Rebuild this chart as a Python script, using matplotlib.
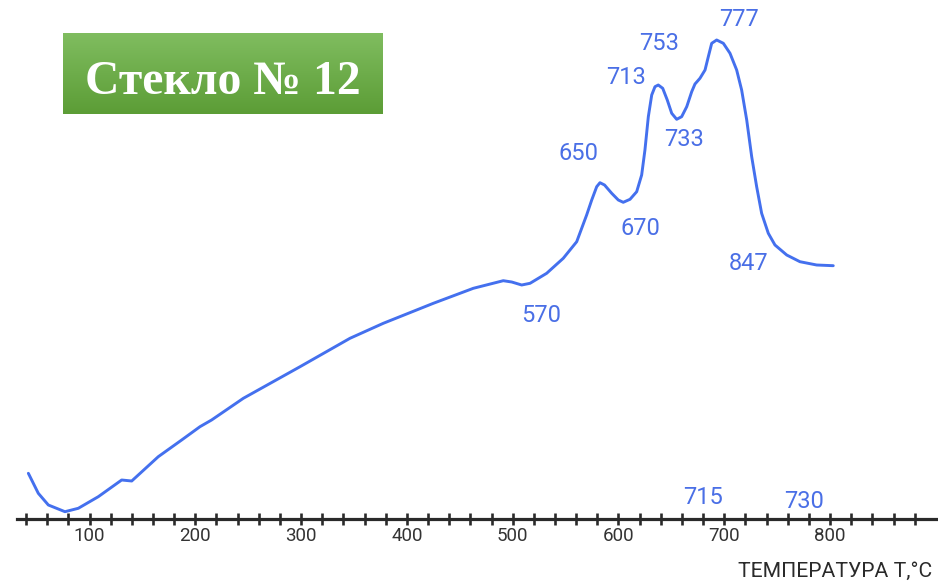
import numpy as np
import matplotlib.pyplot as plt
from matplotlib.colors import LinearSegmentedColormap
from matplotlib.ticker import FixedLocator, NullFormatter

plt.rcParams["font.family"] = ["Roboto", "DejaVu Sans"]

# curve: temperature vs. signal (arbitrary units)
temp = [42.2, 51.6, 61.1, 76.8, 89.4, 108.3, 130.4, 139.9, 146.1, 165.0,
        187.1, 204.4, 215.4, 245.4, 299.0, 346.2, 377.7, 425.0, 462.8,
        491.1, 499.1, 508.5, 516.4, 532.1, 547.8, 560.5,
        569.9, 574.7, 579.4, 582.5, 586.8, 593.6, 599.8, 604.5, 610.9,
        617.2, 621.9, 625.0, 628.2, 631.4, 634.5, 637.6, 641.8, 646.1,
        650.3, 655.0, 659.7, 664.5, 669.2, 672.3, 677.0, 681.8, 684.9,
        688.1, 692.8, 699.1, 705.4, 711.7, 716.4, 721.2, 725.9, 730.6,
        735.3, 741.6, 747.9, 759.0, 771.5, 787.3, 803.0]
signal = [45.7, 25.7, 14.0, 7.3, 10.7, 22.3, 39.0, 38.0, 44.0, 62.3,
          79.0, 92.3, 99.0, 120.7, 152.3, 180.7, 195.7, 215.7, 230.7,
          238.3, 237.0, 234.0, 235.7, 245.7, 260.7, 277.3,
          304.0, 319.0, 332.3, 336.3, 334.0, 325.7, 319.0, 316.7, 319.7,
          327.3, 344.0, 369.0, 402.3, 424.0, 432.3, 434.0, 430.7, 419.0,
          405.7, 399.7, 402.3, 412.3, 427.3, 435.0, 440.7, 449.0, 462.3,
          475.7, 479.0, 475.7, 465.7, 449.0, 429.0, 399.0, 362.3, 332.3,
          305.7, 285.7, 274.0, 264.0, 257.3, 254.0, 253.3]

peak_labels = ["777", "753", "713", "733", "650", "670", "847", "570", "715", "730"]
peak_t = [714.0, 638.0, 607.1, 661.9, 562.6, 620.8, 722.9, 526.7, 679.9, 775.4]
peak_h = [499.0, 475.7, 441.0, 379.0, 365.5, 290.5, 255.5, 203.0, 21.0, 17.3]

major_ticks = [100, 200, 300, 400, 500, 600, 700, 800]
minor_ticks = [t for t in range(40, 901, 20) if t % 100 != 0]

blue = "#4470ee"
text_blue = "#4a6fe6"
dark = "#2a2a2a"

fig = plt.figure(figsize=(9.38, 5.83), dpi=100)
ax = fig.add_axes([0, 0, 1, 1])
ax.set_xlim(15.4, 902.0)
ax.set_ylim(-64, 519)

ax.plot(temp, signal, color=blue, lw=2.1, solid_joinstyle="round",
        solid_capstyle="round")

for lab, t, h in zip(peak_labels, peak_t, peak_h):
    ax.text(t, h, lab, color=text_blue, fontsize=17, ha="center", va="center")

for side in ("top", "left", "right"):
    ax.spines[side].set_visible(False)
ax.spines["bottom"].set_position(("data", 0))
ax.spines["bottom"].set_bounds(31, 902)
ax.spines["bottom"].set_linewidth(2.3)
ax.spines["bottom"].set_color(dark)
ax.yaxis.set_visible(False)

ax.xaxis.set_major_locator(FixedLocator(major_ticks))
ax.xaxis.set_minor_locator(FixedLocator(minor_ticks))
ax.xaxis.set_minor_formatter(NullFormatter())
ax.tick_params(axis="x", which="both", direction="inout", length=8,
               width=1.9, color=dark)
ax.tick_params(axis="x", which="major", labelsize=13.5, labelcolor="#333333",
               pad=2)

fig.text(932 / 938, 1 - 576.7 / 583, "ТЕМПЕРАТУРА Т,°С", fontsize=15.2,
         color=dark, ha="right", va="baseline")

# green title plate
box = fig.add_axes([63.3 / 938, 1 - 114.3 / 583, 320 / 938, 81.6 / 583])
grad = np.linspace(0, 1, 100)[:, None]
cmap = LinearSegmentedColormap.from_list("plate", ["#80bd60", "#5c9d36"])
box.imshow(grad, aspect="auto", cmap=cmap, extent=[0, 1, 0, 1])
box.axis("off")
fig.text(222.5 / 938, 1 - 94 / 583, "Стекло № 12", fontsize=34.3,
         family="Liberation Serif", weight="bold", color="white",
         ha="center", va="baseline")

fig.savefig("out.png", dpi=100)
